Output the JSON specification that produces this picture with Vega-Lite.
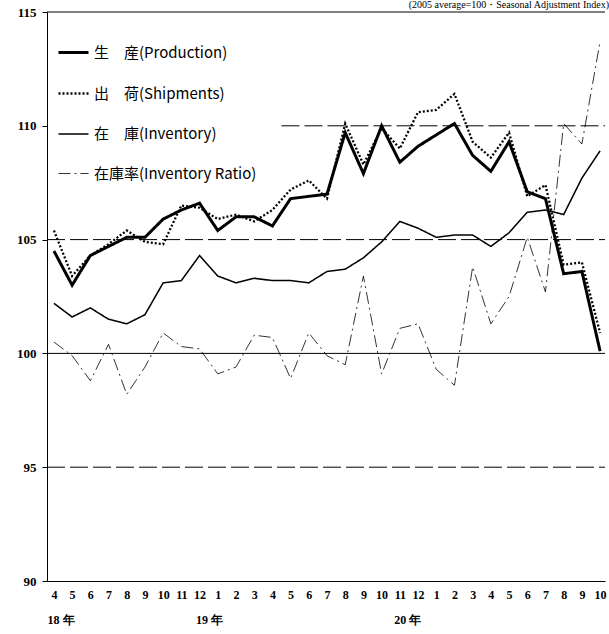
{
  "$schema": "https://vega.github.io/schema/vega-lite/v6.json",
  "width": 558,
  "height": 569,
  "autosize": "none",
  "padding": {"left": 47, "top": 12, "right": 4, "bottom": 53},
  "datasets": {
    "series": [
      {"s": "生　産(Production)", "v": [104.5,103.0,104.3,104.7,105.1,105.1,105.9,106.3,106.6,105.4,106.0,106.0,105.6,106.8,106.9,107.0,109.7,107.9,110.0,108.4,109.1,109.6,110.1,108.7,108.0,109.3,107.1,106.8,103.5,103.6,100.1]},
      {"s": "出　荷(Shipments)", "v": [105.4,103.4,104.3,104.8,105.4,104.9,104.8,106.5,106.4,105.9,106.1,105.8,106.3,107.2,107.6,106.8,110.1,108.3,109.9,109.0,110.6,110.7,111.4,109.3,108.6,109.7,106.9,107.4,103.9,104.0,100.9]},
      {"s": "在　庫(Inventory)", "v": [102.2,101.6,102.0,101.5,101.3,101.7,103.1,103.2,104.3,103.4,103.1,103.3,103.2,103.2,103.1,103.6,103.7,104.2,104.9,105.8,105.5,105.1,105.2,105.2,104.7,105.3,106.2,106.3,106.1,107.7,108.9]},
      {"s": "在庫率(Inventory Ratio)", "v": [100.5,99.9,98.8,100.4,98.2,99.4,100.9,100.3,100.2,99.1,99.4,100.8,100.7,98.9,100.9,99.9,99.5,103.4,99.1,101.1,101.3,99.3,98.6,103.8,101.3,102.5,105.1,102.7,110.1,109.2,113.7]}
    ],
    "dashed": [
      {"y": 110, "x0": 12.5, "x1": 30.27},
      {"y": 105, "x0": -0.38, "x1": 30.27},
      {"y": 95, "x0": -0.38, "x1": 30.27}
    ],
    "solid": [
      {"y": 100, "x0": -0.38, "x1": 30.27},
      {"y": 115, "x0": -0.38, "x1": 30.27}
    ],
    "years": [
      {"x": -0.35, "t": "18 年"},
      {"x": 7.8, "t": "19 年"},
      {"x": 18.7, "t": "20 年"}
    ],
    "note": [
      {"x": 30.27, "y": 115, "t": "(2005 average=100・Seasonal Adjustment Index)"}
    ]
  },
  "encoding": {
    "x": {
      "type": "quantitative",
      "scale": {"domain": [-0.38, 30.27], "nice": false, "zero": false},
      "axis": {"title": null, "values": [0,1,2,3,4,5,6,7,8,9,10,11,12,13,14,15,16,17,18,19,20,21,22,23,24,25,26,27,28,29,30], "labelExpr": "((datum.value + 3) % 12) + 1", "labelOverlap": false, "labelBound": false, "labelFlush": false, "grid": false, "ticks": false, "domainColor": "black", "labelFont": "Liberation Serif", "labelFontWeight": "bold", "labelFontSize": 12, "labelColor": "black", "labelPadding": 8}
    },
    "y": {
      "type": "quantitative",
      "scale": {"domain": [90, 115], "nice": false, "zero": false},
      "axis": {"title": null, "values": [90, 95, 100, 105, 110, 115], "grid": false, "tickColor": "black", "tickSize": 5, "domainColor": "black", "labelFont": "Liberation Serif", "labelFontWeight": "bold", "labelFontSize": 13, "labelColor": "black", "labelPadding": 6}
    }
  },
  "layer": [
    {
      "data": {"name": "dashed"},
      "mark": {"type": "rule", "color": "black", "strokeWidth": 1, "strokeDash": [18, 5]},
      "encoding": {
        "y": {"field": "y"},
        "x": {"field": "x0"},
        "x2": {"field": "x1"}
      }
    },
    {
      "data": {"name": "solid"},
      "mark": {"type": "rule", "color": "black", "strokeWidth": 1},
      "encoding": {
        "y": {"field": "y"},
        "x": {"field": "x0"},
        "x2": {"field": "x1"}
      }
    },
    {
      "data": {"name": "series"},
      "transform": [
        {"flatten": ["v"]},
        {"window": [{"op": "row_number", "as": "rn"}], "groupby": ["s"]},
        {"calculate": "datum.rn - 1", "as": "idx"}
      ],
      "mark": {"type": "line", "color": "black"},
      "encoding": {
        "x": {"field": "idx"},
        "y": {"field": "v"},
        "detail": {"field": "s"},
        "strokeDash": {
          "field": "s", "type": "nominal",
          "scale": {"domain": ["生　産(Production)", "出　荷(Shipments)", "在　庫(Inventory)", "在庫率(Inventory Ratio)"], "range": [[1, 0], [2, 2], [1, 0], [12, 4, 2, 4]]},
          "legend": {"title": null, "orient": "none", "legendX": 10, "legendY": 24, "symbolType": "stroke", "symbolSize": 900, "symbolStrokeColor": "black", "labelFont": "Noto Sans CJK JP", "labelFontSize": 15, "labelColor": "black", "labelLimit": 400, "rowPadding": 16, "labelOffset": 4}
        },
        "strokeWidth": {
          "field": "s", "type": "nominal",
          "scale": {"domain": ["生　産(Production)", "出　荷(Shipments)", "在　庫(Inventory)", "在庫率(Inventory Ratio)"], "range": [3, 0.8, 1, 1]}
        }
      }
    },
    {
      "data": {"name": "years"},
      "mark": {"type": "text", "align": "left", "baseline": "top", "dy": 34, "font": "Liberation Serif", "fontWeight": "bold", "fontSize": 12, "clip": false},
      "encoding": {
        "x": {"field": "x"},
        "y": {"datum": 90},
        "text": {"field": "t"}
      }
    },
    {
      "data": {"name": "note"},
      "mark": {"type": "text", "align": "right", "baseline": "bottom", "dx": 4, "dy": -2, "font": "Liberation Serif", "fontSize": 10, "color": "black", "clip": false},
      "encoding": {
        "x": {"field": "x"},
        "y": {"field": "y"},
        "text": {"field": "t"}
      }
    }
  ],
  "config": {"view": {"stroke": null}, "background": "white"}
}
